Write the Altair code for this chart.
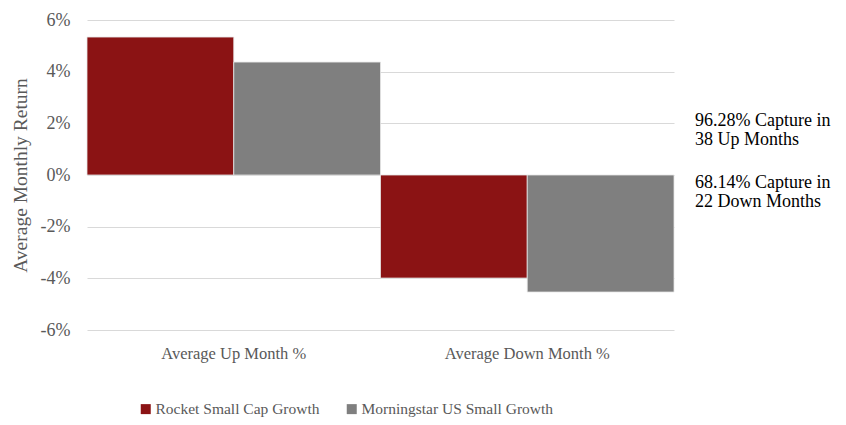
import altair as alt
import pandas as pd

categories = ["Average Up Month %", "Average Down Month %"]
series = ["Rocket Small Cap Growth", "Morningstar US Small Growth"]
rocket = [0.0534, -0.0399]
morningstar = [0.0437, -0.0453]
colors = ["#8B1314", "#7F7F7F"]
annotations = [["96.28% Capture in", "38 Up Months"], ["68.14% Capture in", "22 Down Months"]]
y_ticks = [-0.06, -0.04, -0.02, 0.0, 0.02, 0.04, 0.06]

rows = []
for i, c in enumerate(categories):
    rows.append({"category": c, "series": series[0], "value": rocket[i]})
    rows.append({"category": c, "series": series[1], "value": morningstar[i]})
df = pd.DataFrame(rows)

FONT = "Liberation Serif"
TXT = "#595959"

bars = alt.Chart(df).mark_bar(stroke="#e6e6e6", strokeWidth=0.8).encode(
    x=alt.X("category:N", sort=categories,
            scale=alt.Scale(paddingInner=0, paddingOuter=0),
            axis=alt.Axis(title=None, labelAngle=0, ticks=False, domain=False,
                          labelPadding=15, labelFontSize=16.5, labelColor=TXT,
                          labelFont=FONT, grid=False)),
    xOffset=alt.XOffset("series:N", sort=series, scale=alt.Scale(paddingInner=0, paddingOuter=0)),
    y=alt.Y("value:Q", scale=alt.Scale(domain=[-0.06, 0.06], nice=False),
            axis=alt.Axis(title="Average Monthly Return", values=y_ticks,
                          labelExpr="replace(format(datum.value, '.0%'), '\u2212', '-')",
                          ticks=False, domain=False, labelPadding=17, labelFontSize=18,
                          labelColor=TXT, labelFont=FONT, titleFont=FONT, titleFontSize=19.5,
                          titleColor=TXT, titleFontWeight="normal", titlePadding=10,
                          gridColor="#d9d9d9", gridWidth=1.2)),
    color=alt.Color("series:N", sort=series,
                    scale=alt.Scale(domain=series, range=colors),
                    legend=alt.Legend(title=None, orient="none", direction="horizontal",
                                      legendX=51, legendY=381, symbolType="square",
                                      symbolSize=100, symbolStrokeWidth=0,
                                      labelFont=FONT, labelFontSize=15.5, labelColor=TXT,
                                      columnPadding=24, labelOffset=2, labelLimit=300)),
)

ann_df = pd.DataFrame({"text": annotations, "ypos": [101, 163]})
ann = alt.Chart(ann_df).mark_text(align="left", baseline="middle", font=FONT,
                                  fontSize=18, color="#000000", lineHeight=18.5).encode(
    x=alt.value(608),
    y=alt.Y("ypos:Q", scale=None),
    text="text",
)

chart = alt.layer(bars, ann).properties(
    width=587, height=310,
    background="white",
    autosize=alt.AutoSizeParams(type="none"),
    padding={"left": 79, "top": 12, "right": 160, "bottom": 87},
).configure_view(strokeWidth=0, stroke="transparent")

chart.save("out.html", embed_options={"renderer": "svg", "actions": False})
